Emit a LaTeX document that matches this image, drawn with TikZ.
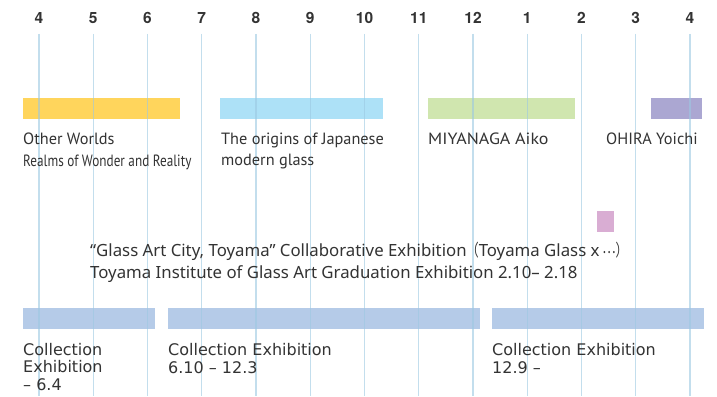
\documentclass[tikz,border=0pt]{standalone}
\usepackage{fontspec}
\setmainfont{Noto Sans}
\newfontfamily\numfont{TeX Gyre Heros}
\newfontfamily\lblfont{PT Sans}
\newfontfamily\botfont{DejaVu Sans}
\newfontfamily\cjk{Noto Sans CJK JP}
\usepackage{graphicx}
\definecolor{txt}{HTML}{333333}
\definecolor{gridc}{HTML}{9CC8E2}
\definecolor{cyellow}{HTML}{FFD55C}
\definecolor{cblue}{HTML}{ADE1F7}
\definecolor{cgreen}{HTML}{D0E6AF}
\definecolor{cpurple}{HTML}{ABA7D2}
\definecolor{cpink}{HTML}{D9ADD3}
\definecolor{ccoll}{HTML}{B5CBE8}
\newcommand{\fwp}[1]{{\cjk\scalebox{0.72}[1]{#1}}}
\begin{document}
\begin{tikzpicture}[x=1pt,y=-1pt,
  monthlbl/.style={anchor=base,inner sep=0pt,font=\numfont\bfseries\fontsize{15.5}{15.5}\selectfont,text=txt},
  gridline/.style={draw=gridc,line width=1.3pt,opacity=0.6},
  toplbl/.style={anchor=base west,inner sep=0pt,font=\lblfont\fontsize{16.3}{20.5}\selectfont,text=txt,align=left},
  midlbl/.style={anchor=base west,inner sep=0pt,font=\fontsize{16.8}{21.5}\selectfont,text=txt,align=left},
  botlbl/.style={anchor=base west,inner sep=0pt,font=\botfont\fontsize{16}{17.5}\selectfont,text=txt,align=left}]
\useasboundingbox (0,0) rectangle (717,396);
\fill[white] (0,0) rectangle (717,396);
% bars
\fill[cyellow] (23,98) rectangle (180,119);
\fill[cblue] (220,98) rectangle (383,119);
\fill[cgreen] (428,98) rectangle (575,119);
\fill[cpurple] (651,98) rectangle (702,119);
\fill[cpink] (597,211) rectangle (614,232);
\fill[ccoll] (23,308) rectangle (155,329);
\fill[ccoll] (168,308) rectangle (480,329);
\fill[ccoll] (492,308) rectangle (704,329);
% grid
\foreach \m [count=\i from 0] in {4,5,6,7,8,9,10,11,12,1,2,3,4}{
  \pgfmathsetmacro\xx{39+54.25*\i}
  \node[monthlbl] (m\i) at (\xx,23.3) {\m};
  \draw[gridline] (\xx,34) -- (\xx,396);
}
% top labels
\node[toplbl] (ow) at (23,144) {Other Worlds};
\node[toplbl] (rw) at (23,166) {\scalebox{0.81}[1]{Realms of Wonder and Reality}};
\node[toplbl] (jp) at (221,165) {The origins of Japanese\\modern glass};
\node[toplbl] (mi) at (428,144) {\scalebox{1.1}[1]{MIYANAGA Aiko}};
\node[toplbl] (oh) at (606,144) {OHIRA Yoichi};
% middle
\node[midlbl] (ga) at (90,278) {“Glass Art City, Toyama” Collaborative Exhibition\fwp{（}Toyama Glass x\,{\cjk\raisebox{3.5pt}{\scalebox{0.75}[1]{…}}}\fwp{）}\\Toyama Institute of Glass Art Graduation Exhibition 2.10– 2.18};
% bottom
\node[botlbl] (c1) at (23,390) {Collection\\Exhibition\\– 6.4};
\node[botlbl] (c2) at (168,373) {Collection Exhibition\\6.10 – 12.3};
\node[botlbl] (c3) at (492,373) {Collection Exhibition\\12.9 –};
\end{tikzpicture}
\end{document}
